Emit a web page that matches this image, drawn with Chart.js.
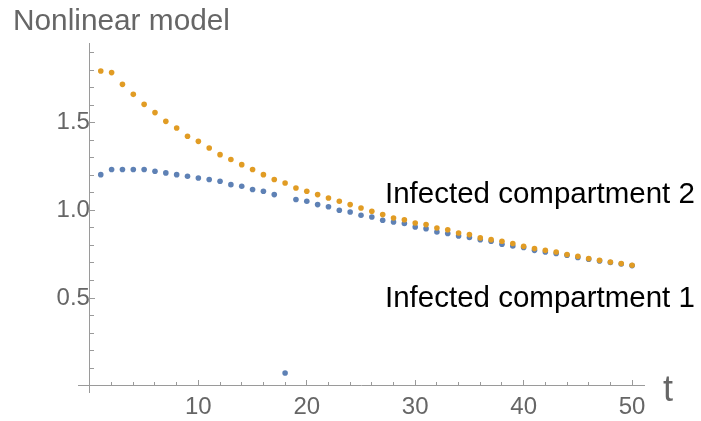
<!DOCTYPE html>
<html lang="en">
<head>
<meta charset="utf-8">
<title>Nonlinear model</title>
<script src="https://cdn.jsdelivr.net/npm/chart.js@4.4.1/dist/chart.umd.min.js"></script>
<style>
  html, body { margin: 0; padding: 0; background: #ffffff; }
  #wrap { position: relative; width: 701px; height: 421px; }
</style>
</head>
<body>
<div id="wrap"><canvas id="modelChart"></canvas></div>
<script>
// Données (t = 1 ... 50)
const temps = [1, 2, 3, 4, 5, 6, 7, 8, 9, 10, 11, 12, 13, 14, 15, 16, 17, 18, 19, 20,
               21, 22, 23, 24, 25, 26, 27, 28, 29, 30, 31, 32, 33, 34, 35, 36, 37, 38, 39, 40,
               41, 42, 43, 44, 45, 46, 47, 48, 49, 50];

// Compartiment infecté 1 (bleu)
const compartiment1 = [1.204, 1.233, 1.233, 1.233, 1.233, 1.223, 1.214, 1.204, 1.195, 1.185,
                       1.176, 1.166, 1.147, 1.138, 1.119, 1.109, 1.090, 0.072, 1.062, 1.052,
                       1.033, 1.021, 1.001, 0.991, 0.972, 0.962, 0.944, 0.934, 0.925, 0.905,
                       0.896, 0.877, 0.868, 0.854, 0.845, 0.833, 0.824, 0.807, 0.797, 0.788,
                       0.772, 0.763, 0.754, 0.744, 0.731, 0.722, 0.712, 0.703, 0.694, 0.685];

// Compartiment infecté 2 (orange)
const compartiment2 = [1.795, 1.786, 1.719, 1.662, 1.605, 1.558, 1.508, 1.470, 1.423, 1.394,
                       1.356, 1.318, 1.290, 1.261, 1.233, 1.204, 1.176, 1.156, 1.128, 1.109,
                       1.090, 1.071, 1.052, 1.033, 1.014, 0.995, 0.976, 0.957, 0.947, 0.928,
                       0.919, 0.900, 0.890, 0.871, 0.862, 0.843, 0.833, 0.824, 0.811, 0.795,
                       0.782, 0.772, 0.763, 0.748, 0.738, 0.725, 0.715, 0.706, 0.697, 0.687];

const nomsSeries = ['Infected compartment 1', 'Infected compartment 2'];
const titreGraphique = 'Nonlinear model';
const titreAxeX = 't';

// Graduations
const xTicksMajeurs = [10, 20, 30, 40, 50];
const yTicksMajeurs = [0.5, 1.0, 1.5];

const couleurAxe = '#9a9a9a';
const couleurTexteGris = '#666666';
const police = '"Liberation Sans", Arial, sans-serif';

function enPoints(valeurs) {
    return temps.map((t, i) => ({ x: t, y: valeurs[i] }));
}

// Textes posés à la main (titre, nom d'axe, étiquettes des séries)
const textesPlugin = {
    id: 'textes',
    afterDraw(chart) {
        const ctx = chart.ctx;
        ctx.save();
        ctx.textBaseline = 'alphabetic';
        ctx.textAlign = 'left';

        ctx.fillStyle = couleurTexteGris;
        ctx.font = '29.8px ' + police;
        ctx.fillText(titreGraphique, 13, 30);

        ctx.font = '36px ' + police;
        ctx.fillText(titreAxeX, 663, 401);

        ctx.fillStyle = '#000000';
        ctx.font = '29.5px ' + police;
        ctx.fillText(nomsSeries[1], 385, 203);
        ctx.fillText(nomsSeries[0], 385, 307);
        ctx.restore();
    }
};

// Axe principal (graduations longues + étiquettes)
function axePrincipal(min, max, pas, positionAxe, padding, ticksAffiches) {
    return {
        type: 'linear',
        position: positionAxe,
        min: min,
        max: max,
        grid: {
            display: true,
            drawOnChartArea: false,
            drawTicks: true,
            tickLength: -6,
            tickColor: couleurAxe,
            lineWidth: 1
        },
        border: { display: true, color: couleurAxe, width: 1 },
        ticks: {
            stepSize: pas,
            includeBounds: false,
            padding: padding,
            color: couleurTexteGris,
            font: { family: police, size: 24 },
            callback: function (value) {
                if (!ticksAffiches.some(v => Math.abs(v - value) < 1e-9)) return '';
                return pas < 1 ? value.toFixed(1) : String(value);
            }
        }
    };
}

// Axe secondaire pour les petites graduations
function axeMineur(min, max, pas, positionAxe) {
    return {
        type: 'linear',
        position: positionAxe,
        min: min,
        max: max,
        grid: {
            display: true,
            drawOnChartArea: false,
            drawTicks: true,
            tickLength: -4,
            tickColor: couleurAxe,
            lineWidth: 1
        },
        border: { display: false },
        ticks: { stepSize: pas, includeBounds: false, display: false }
    };
}

const canvas = document.querySelector('#modelChart');

new Chart(canvas, {
    type: 'scatter',
    data: {
        datasets: [
            {
                label: nomsSeries[0],
                data: enPoints(compartiment1),
                backgroundColor: 'rgb(94, 129, 181)',
                pointRadius: 2.8,
                pointBorderWidth: 0,
                showLine: false,
                order: 1
            },
            {
                label: nomsSeries[1],
                data: enPoints(compartiment2),
                backgroundColor: 'rgb(225, 156, 36)',
                pointRadius: 2.8,
                pointBorderWidth: 0,
                showLine: false,
                order: 0
            }
        ]
    },
    options: {
        responsive: true,
        maintainAspectRatio: false,
        animation: false,
        layout: { padding: { left: 78, right: 57, top: 43, bottom: 29 } },
        plugins: {
            legend: { display: false },
            tooltip: { enabled: false }
        },
        scales: {
            x: axePrincipal(-1.1, 51.1, 10, { y: 0 }, 13, xTicksMajeurs),
            xMineur: Object.assign(axeMineur(-1.1, 51.1, 2, { y: 0 }), { axis: 'x' }),
            y: axePrincipal(-0.036, 1.955, 0.5, { x: 0 }, 14, yTicksMajeurs),
            yMineur: Object.assign(axeMineur(-0.036, 1.955, 0.1, { x: 0 }), { axis: 'y' })
        }
    },
    plugins: [textesPlugin]
});
</script>
</body>
</html>
